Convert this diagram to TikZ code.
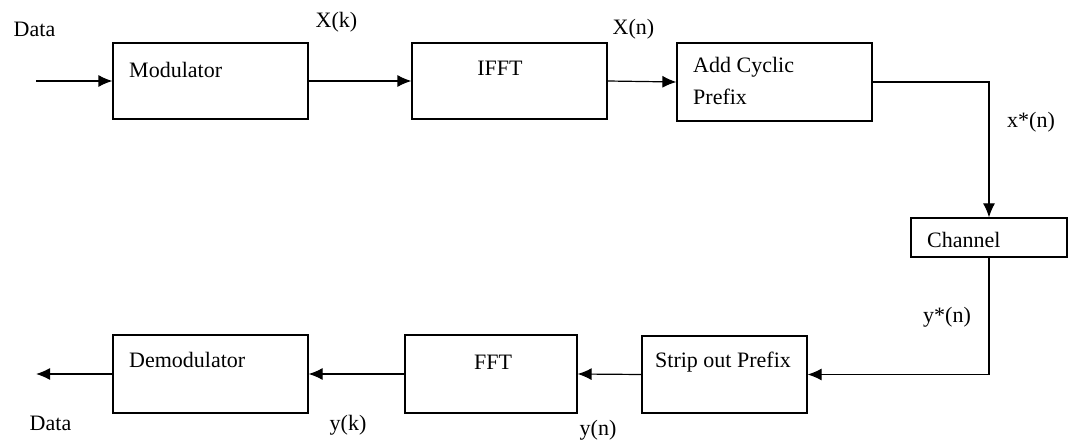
\documentclass[tikz,border=0pt]{standalone}
\usepackage{fontspec}
\setmainfont{Liberation Serif}
\usetikzlibrary{arrows.meta}

\tikzset{
  blk/.style={draw, line width=1.2pt, inner sep=0pt},
  txt/.style={font=\fontsize{22}{25}\selectfont, inner sep=0pt},
  arr/.style={line width=1.2pt, -{Latex[length=14pt,width=12pt]}}
}

\begin{document}
\begin{tikzpicture}[x=1pt,y=-1pt]
  \useasboundingbox (0,0) rectangle (1069,446);

  % blocks
  \node[blk, minimum width=195pt, minimum height=76pt] (mod) at (210.5,81) {};
  \node[blk, minimum width=195pt, minimum height=76pt] (ifft) at (509.5,81) {};
  \node[blk, minimum width=195pt, minimum height=78pt] (acp) at (774.5,82) {};
  \node[blk, minimum width=156pt, minimum height=39pt] (chan) at (989,237.5) {};
  \node[blk, minimum width=165pt, minimum height=77pt] (strip) at (724.5,374.5) {};
  \node[blk, minimum width=172pt, minimum height=78pt] (fft) at (491,374) {};
  \node[blk, minimum width=195pt, minimum height=78pt] (demod) at (210.5,374) {};

  % block texts
  \node[txt, anchor=west] (modtxt) at (129,70) {Modulator};
  \node[txt] (iffttxt) at (500,68) {IFFT};
  \node[txt, anchor=west, align=left, font=\fontsize{22}{32}\selectfont] (acptxt) at (693,81) {Add Cyclic\\Prefix};
  \node[txt, anchor=west] (chantxt) at (927,240) {Channel};
  \node[txt, anchor=west] (striptxt) at (655,362) {Strip out Prefix};
  \node[txt] (ffttxt) at (493,362) {FFT};
  \node[txt, anchor=west] (demodtxt) at (129,360) {Demodulator};

  % signal names
  \node[txt] (datain) at (34.5,29) {Data};
  \node[txt] (xk) at (336.5,22) {X(k)};
  \node[txt] (xn) at (633.5,29) {X(n)};
  \node[txt] (xsn) at (1031,122) {x*(n)};
  \node[txt] (ysn) at (947,317) {y*(n)};
  \node[txt] (yn) at (598,430) {y(n)};
  \node[txt] (yk) at (348,425) {y(k)};
  \node[txt] (dataout) at (50.5,423) {Data};

  % connections
  \coordinate (in) at (36,81);
  \coordinate (out) at (36,374);
  \draw[arr] (in) -- (mod.west);
  \draw[arr] (mod.east) -- (ifft.west);
  \draw[arr] (ifft.east) -- (acp.west);
  \draw[arr] (acp.east) -| (chan.north);
  \draw[arr] (chan.south) |- (strip.east);
  \draw[arr] (strip.west) -- (fft.east);
  \draw[arr] (fft.west) -- (demod.east);
  \draw[arr] (demod.west) -- (out);
\end{tikzpicture}
\end{document}
